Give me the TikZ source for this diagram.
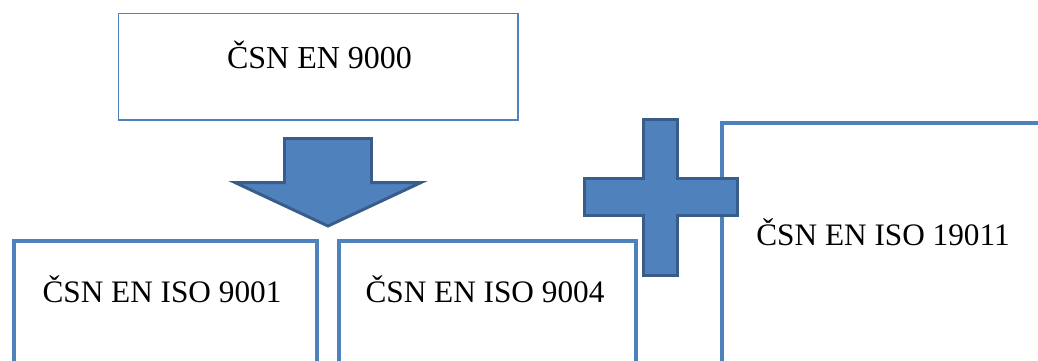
\documentclass[tikz,border=0pt]{standalone}
\usepackage{fontspec}
\setmainfont{Liberation Serif}
\usetikzlibrary{positioning}
\definecolor{modra}{HTML}{4F81BD}
\definecolor{tmavomodra}{HTML}{385D8A}
\begin{document}
\begin{tikzpicture}[x=0.02cm, y=-0.02cm,
    popis/.style={font=\rmfamily\fontsize{17.8}{21}\selectfont, inner sep=0pt, anchor=base},
    tenky/.style={draw=modra, line width=0.9pt, inner sep=0pt, anchor=north west},
    ramecek/.style={draw=modra, line width=2.3pt, inner sep=0pt, anchor=north west},
    tvar/.style={fill=modra, draw=tmavomodra, line width=1.7pt, line join=miter}]
  \useasboundingbox (0,0) rectangle (1038,360);
  \clip (0,0) rectangle (1038,360);
  % horni norma
  \node[tenky, minimum width=7.99cm, minimum height=2.14cm] (ramec9000) at (117.5,12.5) {};
  \node[popis, font=\rmfamily\fontsize{18.2}{21}\selectfont] (n9000) at (319.5,68.5) {ČSN EN 9000};
  % spodni normy
  \node[ramecek, minimum width=6.06cm, minimum height=3cm] (ramec9001) at (12,239) {};
  \node[ramecek, minimum width=5.94cm, minimum height=3cm] (ramec9004) at (337,239) {};
  \node[popis] (n9001) at (162,302) {ČSN EN ISO 9001};
  \node[popis] (n9004) at (485,302) {ČSN EN ISO 9004};
  % prava norma
  \node[ramecek, minimum width=8cm, minimum height=6cm] (ramec19011) at (720,121) {};
  \node[popis, anchor=base west] (n19011) at (756,245) {ČSN EN ISO 19011};
  % sipka dolu
  \draw[tvar] (284.5,138.5) -- (371.5,138.5) -- (371.5,182.5) -- (421,182.5)
    -- (328,226) -- (235,182.5) -- (284.5,182.5) -- cycle;
  % plus
  \draw[tvar] (643.5,119.5) -- (677.5,119.5) -- (677.5,178.5) -- (737.5,178.5)
    -- (737.5,215.5) -- (677.5,215.5) -- (677.5,275.5) -- (643.5,275.5)
    -- (643.5,215.5) -- (584.5,215.5) -- (584.5,178.5) -- (643.5,178.5) -- cycle;
\end{tikzpicture}
\end{document}
